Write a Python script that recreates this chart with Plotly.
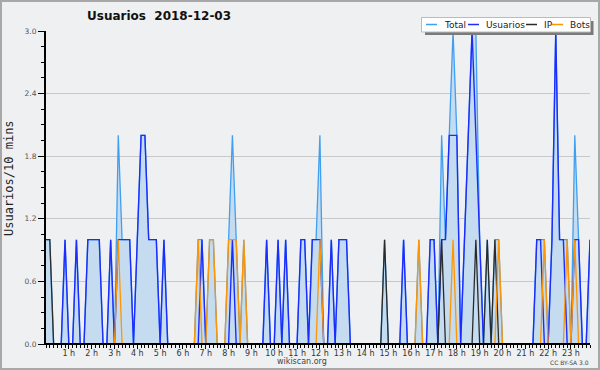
import plotly.graph_objects as go

# ---- data (10-minute bins, 0 = 00:00 ... 143 = 23:50) ----
bins = list(range(144))
hour_ticks = [6 * h for h in range(1, 24)]
hour_labels = [f"{h} h" for h in range(1, 24)]

total = [
    1, 1, 0, 0, 0, 1, 0, 0, 1, 0, 0, 1,
    1, 1, 1, 0, 0, 1, 0, 2, 1, 1, 1, 0,
    1, 2, 2, 1, 1, 1, 0, 1, 0, 0, 0, 0,
    0, 0, 0, 0, 1, 1, 0, 1, 1, 0, 0, 0,
    1, 2, 1, 0, 1, 0, 0, 0, 0, 0, 1, 0,
    0, 1, 0, 1, 0, 0, 0, 1, 1, 0, 1, 1,
    2, 0, 0, 1, 0, 1, 1, 1, 0, 0, 0, 0,
    0, 0, 0, 0, 0, 1, 0, 0, 0, 0, 1, 0,
    0, 0, 1, 0, 0, 1, 1, 0, 2, 1, 2, 3,
    2, 0, 1, 2, 3, 3, 1, 0, 1, 0, 1, 1,
    0, 0, 0, 0, 0, 0, 0, 0, 0, 1, 1, 1,
    0, 1, 3, 1, 1, 1, 0, 2, 1, 0, 0, 1,
]
usuarios = [
    0, 0, 0, 0, 0, 1, 0, 0, 1, 0, 0, 1,
    1, 1, 1, 0, 0, 1, 0, 1, 1, 1, 1, 0,
    1, 2, 2, 1, 1, 1, 0, 1, 0, 0, 0, 0,
    0, 0, 0, 0, 0, 1, 0, 0, 0, 0, 0, 0,
    0, 1, 0, 0, 0, 0, 0, 0, 0, 0, 1, 0,
    0, 1, 0, 1, 0, 0, 0, 1, 1, 0, 1, 1,
    1, 0, 0, 1, 0, 1, 1, 1, 0, 0, 0, 0,
    0, 0, 0, 0, 0, 0, 0, 0, 0, 0, 1, 0,
    0, 0, 0, 0, 0, 1, 1, 0, 1, 1, 2, 2,
    2, 0, 1, 2, 3, 2, 1, 0, 0, 0, 0, 0,
    0, 0, 0, 0, 0, 0, 0, 0, 0, 1, 1, 0,
    0, 1, 3, 1, 1, 0, 0, 1, 1, 0, 0, 1,
]
ip = [
    1, 1, 0, 0, 0, 0, 0, 0, 0, 0, 0, 0,
    0, 0, 0, 0, 0, 0, 0, 0, 0, 0, 0, 0,
    0, 0, 0, 0, 0, 0, 0, 0, 0, 0, 0, 0,
    0, 0, 0, 0, 0, 0, 0, 0, 0, 0, 0, 0,
    0, 0, 0, 0, 0, 0, 0, 0, 0, 0, 0, 0,
    0, 0, 0, 0, 0, 0, 0, 0, 0, 0, 0, 0,
    0, 0, 0, 0, 0, 0, 0, 0, 0, 0, 0, 0,
    0, 0, 0, 0, 0, 1, 0, 0, 0, 0, 0, 0,
    0, 0, 0, 0, 0, 0, 0, 0, 1, 0, 0, 0,
    0, 0, 0, 0, 0, 1, 0, 0, 1, 0, 1, 0,
    0, 0, 0, 0, 0, 0, 0, 0, 0, 0, 0, 0,
    0, 0, 0, 0, 0, 0, 0, 0, 0, 0, 0, 0,
]
bots = [
    0, 0, 0, 0, 0, 0, 0, 0, 0, 0, 0, 0,
    0, 0, 0, 0, 0, 0, 0, 1, 0, 0, 0, 0,
    0, 0, 0, 0, 0, 0, 0, 0, 0, 0, 0, 0,
    0, 0, 0, 0, 1, 0, 0, 1, 1, 0, 0, 0,
    1, 1, 1, 0, 1, 0, 0, 0, 0, 0, 0, 0,
    0, 0, 0, 0, 0, 0, 0, 0, 0, 0, 0, 0,
    1, 0, 0, 0, 0, 0, 0, 0, 0, 0, 0, 0,
    0, 0, 0, 0, 0, 0, 0, 0, 0, 0, 0, 0,
    0, 0, 1, 0, 0, 0, 0, 0, 0, 0, 0, 1,
    0, 0, 0, 0, 0, 0, 0, 0, 0, 0, 0, 1,
    0, 0, 0, 0, 0, 0, 0, 0, 0, 0, 0, 1,
    0, 0, 0, 0, 0, 1, 0, 1, 0, 0, 0, 0,
]
series_names = ["Total", "Usuarios", "IP", "Bots"]
title_text = "Usuarios\u00a0\u00a02018-12-03"

# ---- styling ----
C_TOTAL = "#3f9ff0"
C_FILL = "#c5dcf0"
C_USR = "#1c2cff"
C_IP = "#2a2a2a"
C_BOT = "#ff9500"
BG = "#eff0f1"
FONT = "DejaVu Sans"

L, R, T, B = 46, 590, 31, 344
W, H = R - L, B - T


def px(x):
    return (x - L) / W


def py(y):
    return (B - y) / H


fig = go.Figure()
fig.add_trace(go.Scatter(x=bins, y=total, mode="lines", name=series_names[0],
                         line=dict(color=C_TOTAL, width=1.3),
                         fill="tozeroy", fillcolor=C_FILL))
fig.add_trace(go.Scatter(x=bins, y=usuarios, mode="lines", name=series_names[1],
                         line=dict(color=C_USR, width=1.4)))
fig.add_trace(go.Scatter(x=bins, y=ip, mode="lines", name=series_names[2],
                         line=dict(color=C_IP, width=1.3)))
fig.add_trace(go.Scatter(x=bins, y=bots, mode="lines", name=series_names[3],
                         line=dict(color=C_BOT, width=1.3)))

shapes = []
annotations = []

# black baseline over the zero-valued line segments
shapes.append(dict(type="line", xref="paper", yref="paper",
                   x0=0, x1=1, y0=0, y1=0,
                   line=dict(color="black", width=2), layer="above"))

# outer border
shapes.append(dict(type="rect", xref="paper", yref="paper",
                   x0=px(1), x1=px(599), y0=py(1), y1=py(369),
                   line=dict(color="#a8a8a8", width=2), layer="above"))

# legend box with shadow
shapes.append(dict(type="rect", xref="paper", yref="paper",
                   x0=px(425), x1=px(593.5), y0=py(21), y1=py(35),
                   fillcolor="#7a7a7a", line=dict(width=0), layer="above"))
shapes.append(dict(type="rect", xref="paper", yref="paper",
                   x0=px(421.5), x1=px(590.5), y0=py(17.5), y1=py(32),
                   fillcolor="white", line=dict(color="#bbbbbb", width=1), layer="above"))
legend_items = [
    (426, 437, 442, C_TOTAL),
    (468, 479, 483.5, C_USR),
    (526, 537, 541.5, C_IP),
    (552, 563, 568, C_BOT),
]
for (lx0, lx1, tx, col), name in zip(legend_items, series_names):
    shapes.append(dict(type="line", xref="paper", yref="paper",
                       x0=px(lx0), x1=px(lx1), y0=py(24.5), y1=py(24.5),
                       line=dict(color=col, width=1.5), layer="above"))
    annotations.append(dict(text=name, xref="paper", yref="paper",
                            x=px(tx), y=py(24.5), xanchor="left", yanchor="middle",
                            showarrow=False, font=dict(family=FONT, size=9, color="#222")))

# title
annotations.append(dict(text=title_text, xref="paper", yref="paper",
                        x=px(85), y=py(16.5), xanchor="left", yanchor="middle",
                        showarrow=False,
                        font=dict(family="DejaVu Sans", size=12, color="#111", weight="bold")))
# y-axis title
annotations.append(dict(text="Usuarios/10 mins", xref="paper", yref="paper",
                        x=px(9), y=py(178), xanchor="center", yanchor="middle",
                        textangle=-90, showarrow=False,
                        font=dict(family="DejaVu Sans Mono", size=12, color="#222")))
# x-axis footer
annotations.append(dict(text="wikiscan.org", xref="paper", yref="paper",
                        x=px(302), y=py(361), xanchor="center", yanchor="middle",
                        showarrow=False, font=dict(family=FONT, size=8, color="#444")))
annotations.append(dict(text="CC BY-SA 3.0", xref="paper", yref="paper",
                        x=px(591), y=py(362.5), xanchor="right", yanchor="middle",
                        showarrow=False, font=dict(family=FONT, size=6, color="#444")))

fig.update_layout(
    width=600, height=370,
    margin=dict(l=L, r=600 - R, t=T, b=370 - B, pad=0, autoexpand=False),
    paper_bgcolor=BG, plot_bgcolor=BG,
    showlegend=False,
    shapes=shapes, annotations=annotations,
    xaxis=dict(range=[0, 143], showgrid=False, zeroline=False,
               showline=True, linecolor="black", linewidth=1,
               ticks="outside", ticklen=4, tickwidth=1, tickcolor="black",
               tickmode="array", tickvals=hour_ticks, ticktext=hour_labels,
               ticklabelstandoff=-3,
               tickfont=dict(family=FONT, size=8, color="#333"),
               minor=dict(tickmode="linear", tick0=0, dtick=1, ticks="outside",
                          ticklen=3, tickwidth=1, tickcolor="black", showgrid=False)),
    yaxis=dict(range=[0, 3.0], tick0=0, dtick=0.6, tickformat=".1f",
               showgrid=True, gridcolor="#c8c8c8", gridwidth=1, zeroline=False,
               showline=True, linecolor="black", linewidth=2,
               ticks="outside", ticklen=6, tickwidth=1, tickcolor="black",
               tickfont=dict(family=FONT, size=7.5, color="#555"),
               minor=dict(tick0=0, dtick=0.15, ticks="outside", ticklen=3,
                          tickwidth=1, tickcolor="black", showgrid=False)),
)

fig.write_html("out.html", config={"displayModeBar": False},
               post_script="document.body.style.margin='0px';")
